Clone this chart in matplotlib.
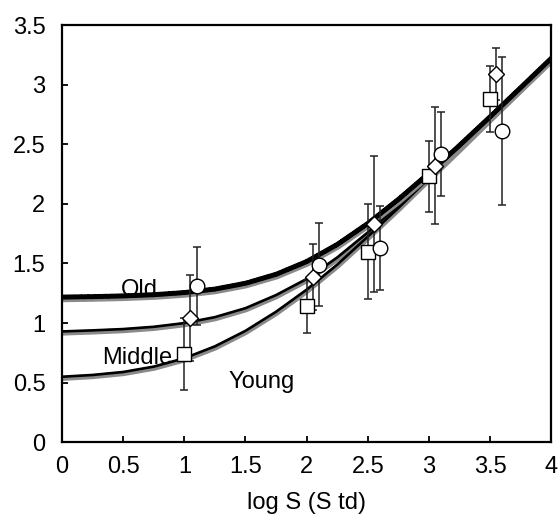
import matplotlib
matplotlib.use("Agg")
import matplotlib.pyplot as plt
import matplotlib.transforms as mtransforms

plt.rcParams['font.family'] = ['Liberation Sans', 'DejaVu Sans']

# fitted curves
curve_x = [0, 0.25, 0.5, 0.75, 1, 1.25, 1.5, 1.75, 2, 2.25, 2.5, 2.75, 3, 3.25, 3.5, 3.75, 4]
old_curve = [1.218, 1.222, 1.228, 1.238, 1.256, 1.285, 1.334, 1.409, 1.516, 1.659, 1.835,
             2.037, 2.257, 2.490, 2.730, 2.974, 3.220]
middle_curve = [0.93, 0.939, 0.95, 0.969, 1.0, 1.05, 1.125, 1.235, 1.37, 1.55, 1.76,
                1.99, 2.23, 2.47, 2.72, 2.968, 3.215]
young_curve = [0.55, 0.565, 0.59, 0.635, 0.705, 0.805, 0.935, 1.095, 1.28, 1.49, 1.725,
               1.965, 2.215, 2.462, 2.713, 2.963, 3.213]

# measured points
young_x = [1.0, 2.0, 2.5, 3.0, 3.5]
young_y = [0.74, 1.14, 1.60, 2.23, 2.88]
young_err = [0.30, 0.225, 0.40, 0.30, 0.28]

middle_x = [1.05, 2.05, 2.55, 3.05, 3.55]
middle_y = [1.04, 1.385, 1.83, 2.32, 3.09]
middle_err = [0.36, 0.275, 0.57, 0.49, 0.22]

old_x = [1.1, 2.1, 2.6, 3.1, 3.6]
old_y = [1.31, 1.49, 1.63, 2.42, 2.61]
old_err = [0.33, 0.35, 0.35, 0.35, 0.62]

fig = plt.figure(figsize=(5.59, 5.21), dpi=100)
ax = fig.add_axes([0.111, 0.151, 0.875, 0.801])

shadow = mtransforms.offset_copy(ax.transData, fig=fig, x=0.3, y=-1.2, units='points')

for yc in [young_curve, middle_curve]:
    ax.plot(curve_x, yc, color='#8a8a8a', lw=3.6, transform=shadow, zorder=2,
            solid_capstyle='butt')
    ax.plot(curve_x, yc, color='black', lw=1.9, zorder=2.1, solid_capstyle='butt')

ax.plot(curve_x, old_curve, color='#8a8a8a', lw=5, transform=shadow, zorder=2.2,
        solid_capstyle='butt')
ax.plot(curve_x, old_curve, color='black', lw=3.6, zorder=2.3,
        linestyle=(0, (1.0, 0.35)), dash_capstyle='round')

for xs, ys, es, m, ms in [(young_x, young_y, young_err, 's', 10),
                          (middle_x, middle_y, middle_err, 'D', 8.5),
                          (old_x, old_y, old_err, 'o', 10.5)]:
    ax.errorbar(xs, ys, yerr=es, fmt='none', ecolor='#222222', elinewidth=1.1,
                capsize=3, capthick=1.1, zorder=3)
    ax.plot(xs, ys, linestyle='none', marker=m, markersize=ms, markerfacecolor='white',
            markeredgecolor='black', markeredgewidth=1.0, zorder=4)

ax.text(0.48, 1.28, 'Old', fontsize=17, va='center', ha='left', zorder=5)
ax.text(0.33, 0.71, 'Middle', fontsize=17, va='center', ha='left', zorder=5)
ax.text(1.36, 0.51, 'Young', fontsize=17, va='center', ha='left', zorder=5)

ax.set_xlim(0, 4)
ax.set_ylim(0, 3.5)
ax.set_xticks([0, 0.5, 1, 1.5, 2, 2.5, 3, 3.5, 4])
ax.set_xticklabels(['0', '0.5', '1', '1.5', '2', '2.5', '3', '3.5', '4'])
ax.set_yticks([0, 0.5, 1, 1.5, 2, 2.5, 3, 3.5])
ax.set_yticklabels(['0', '0.5', '1', '1.5', '2', '2.5', '3', '3.5'])
ax.tick_params(direction='in', length=4, width=1.3, labelsize=17,
               top=False, right=False)
ax.tick_params(axis='y', pad=12)
ax.tick_params(axis='x', pad=10)
for s in ax.spines.values():
    s.set_linewidth(1.6)
ax.set_xlabel('log S (S td)', fontsize=17, labelpad=10)

fig.savefig('out.png', dpi=100)
